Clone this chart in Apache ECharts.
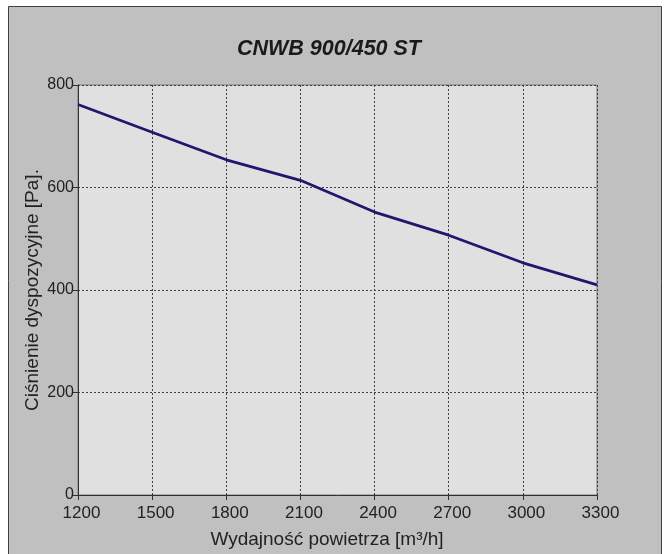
<!DOCTYPE html>
<html><head><meta charset="utf-8">
<script src="https://cdn.jsdelivr.net/npm/echarts@6/dist/echarts.min.js"></script>
<style>html,body{margin:0;padding:0;background:#fff;}#c{width:669px;height:554px;}</style>
</head><body><div id="c"></div>
<script>
var titleText = 'CNWB 900/450 ST';
var xName = 'Wydajność powietrza [m³/h]';
var yName = 'Ciśnienie dyspozycyjne [Pa].';
var flows = [1200, 1500, 1800, 2100, 2400, 2700, 3000, 3300];
var pressures = [762, 708, 654, 614, 552, 507, 453, 410];

var chart = echarts.init(document.getElementById('c'), null, {renderer: 'canvas'});
var font = 'Liberation Sans, Arial, sans-serif';
chart.setOption({
  backgroundColor: '#ffffff',
  animation: false,
  graphic: [{
    type: 'rect', z: -10, silent: true,
    shape: {x: 8.5, y: 6.5, width: 653, height: 560},
    style: {fill: '#c0c0c0', stroke: '#404040', lineWidth: 1}
  }, {
    type: 'text', silent: true, x: 329, y: 49,
    style: {text: titleText, textAlign: 'center', textVerticalAlign: 'middle',
      font: 'italic bold 21.5px ' + font, fill: '#1a1a1a'}
  }],
  grid: {
    left: 78, right: 72, top: 85, bottom: 59, show: true,
    backgroundColor: '#e0e0e0', borderColor: '#7a7a7a', borderWidth: 1
  },
  xAxis: {
    type: 'value', min: 1200, max: 3300, interval: 300,
    name: xName, nameLocation: 'middle', nameGap: 35,
    nameTextStyle: {fontFamily: font, fontSize: 19, color: '#222', padding: [0, 21, 0, 0]},
    axisLine: {show: true, lineStyle: {color: '#303030', width: 1}},
    axisTick: {show: true, length: 5, lineStyle: {color: '#303030'}},
    axisLabel: {fontFamily: font, fontSize: 17, color: '#222', margin: 10, padding: [0, 0, 0, 7],
      formatter: function (v) { return String(v); }},
    splitLine: {show: true, lineStyle: {color: '#404040', type: [2, 2], width: 1}}
  },
  yAxis: {
    type: 'value', min: 0, max: 800, interval: 200,
    name: yName, nameLocation: 'middle', nameGap: 36, nameMoveOverlap: false,
    nameTextStyle: {fontFamily: font, fontSize: 19, color: '#222'},
    axisLine: {show: true, lineStyle: {color: '#303030', width: 1}},
    axisTick: {show: true, length: 5, lineStyle: {color: '#303030'}},
    axisLabel: {fontFamily: font, fontSize: 16, color: '#222', margin: 4},
    splitLine: {show: true, lineStyle: {color: '#404040', type: [2, 2], width: 1}}
  },
  series: [{
    type: 'line',
    data: flows.map(function (f, i) { return [f, pressures[i]]; }),
    showSymbol: false, symbol: 'none',
    lineStyle: {color: '#22166e', width: 2.7},
    z: 5
  }]
});
</script></body></html>
